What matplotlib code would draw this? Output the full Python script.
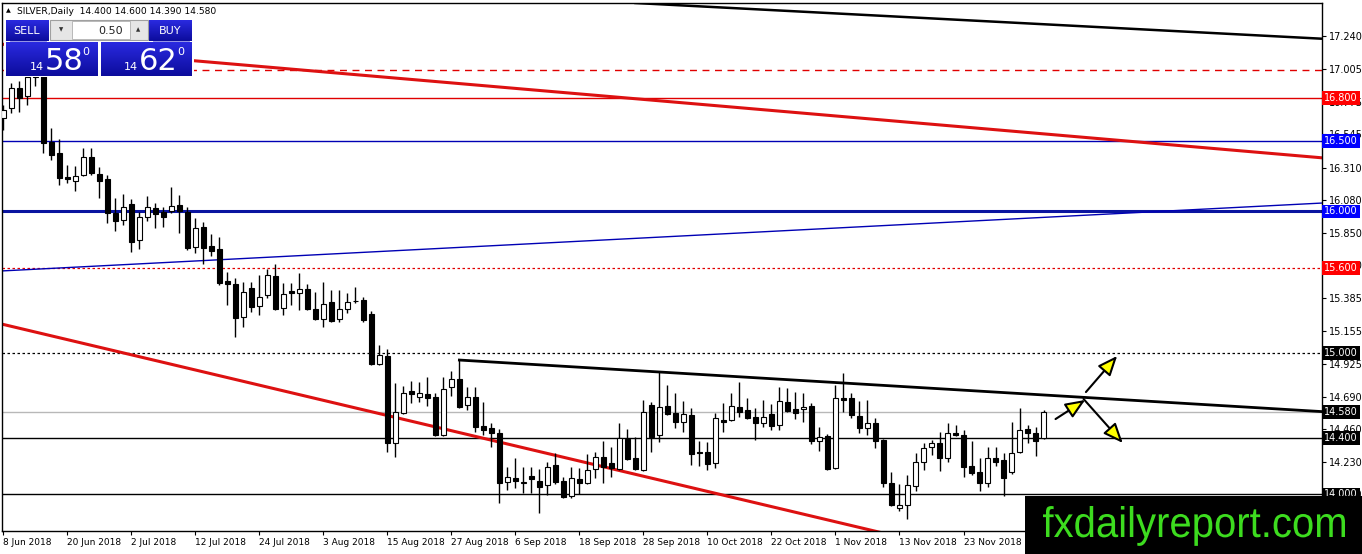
import numpy as np
import matplotlib
matplotlib.use("Agg")
import matplotlib.pyplot as plt
import matplotlib.transforms as mtransforms
from matplotlib.colors import LinearSegmentedColormap
from matplotlib.patches import Rectangle, PathPatch
from matplotlib.textpath import TextPath
from matplotlib.font_manager import FontProperties

# SILVER daily candles, 8 Jun 2018 -> early Dec 2018
opens = [16.660, 16.731, 16.873, 16.816, 16.950, 17.140, 16.491, 16.413, 16.244, 16.215,
         16.258, 16.385, 16.265, 16.229, 15.989, 15.940, 16.053, 15.798, 15.961, 16.025,
         15.996, 16.003, 16.046, 15.996, 15.749, 15.890, 15.756, 15.735, 15.509, 15.487,
         15.254, 15.459, 15.332, 15.410, 15.544, 15.318, 15.438, 15.424, 15.452, 15.311,
         15.240, 15.360, 15.240, 15.311, 15.364, 15.374, 15.275, 14.922, 14.979, 14.364,
         14.576, 14.731, 14.689, 14.710, 14.689, 14.420, 14.759, 14.816, 14.632, 14.689,
         14.484, 14.470, 14.434, 14.088, 14.116, 14.081, 14.130, 14.095, 14.067, 14.208,
         14.095, 13.989, 14.109, 14.081, 14.180, 14.265, 14.222, 14.180, 14.392, 14.258,
         14.173, 14.632, 14.420, 14.625, 14.576, 14.512, 14.562, 14.300, 14.300, 14.222,
         14.526, 14.526, 14.618, 14.597, 14.548, 14.505, 14.569, 14.491, 14.653, 14.604,
         14.604, 14.625, 14.378, 14.413, 14.187, 14.682, 14.682, 14.555, 14.470, 14.505,
         14.385, 14.081, 13.904, 13.926, 14.060, 14.230, 14.335, 14.364, 14.258, 14.434,
         14.420, 14.201, 14.159, 14.081, 14.258, 14.244, 14.159, 14.300, 14.463, 14.434,
         14.400]
highs = [16.752, 16.908, 16.922, 17.020, 17.330, 17.180, 16.590, 16.512, 16.328, 16.321,
         16.449, 16.449, 16.314, 16.258, 16.095, 16.123, 16.088, 15.996, 16.109, 16.060,
         16.032, 16.173, 16.116, 16.032, 15.954, 15.926, 15.841, 15.820, 15.572, 15.530,
         15.502, 15.502, 15.551, 15.593, 15.629, 15.494, 15.494, 15.565, 15.487, 15.431,
         15.502, 15.445, 15.445, 15.424, 15.466, 15.395, 15.297, 15.056, 15.028, 14.788,
         14.767, 14.802, 14.795, 14.830, 14.717, 14.830, 14.872, 14.950, 14.759, 14.759,
         14.653, 14.505, 14.463, 14.194, 14.258, 14.194, 14.194, 14.180, 14.230, 14.293,
         14.123, 14.194, 14.187, 14.286, 14.300, 14.378, 14.335, 14.505, 14.463, 14.406,
         14.668, 14.653, 14.865, 14.774, 14.717, 14.661, 14.611, 14.378, 14.371, 14.576,
         14.646, 14.717, 14.795, 14.682, 14.611, 14.668, 14.639, 14.759, 14.752, 14.724,
         14.717, 14.646, 14.477, 14.427, 14.774, 14.858, 14.717, 14.661, 14.668, 14.540,
         14.392, 14.159, 14.074, 14.138, 14.293, 14.364, 14.385, 14.441, 14.505, 14.491,
         14.455, 14.378, 14.258, 14.335, 14.335, 14.293, 14.512, 14.611, 14.491, 14.477,
         14.600]
lows = [16.576, 16.696, 16.703, 16.752, 16.887, 16.413, 16.364, 16.187, 16.201, 16.145,
        16.250, 16.258, 16.095, 15.918, 15.862, 15.904, 15.714, 15.735, 15.933, 15.883,
        15.890, 15.989, 15.848, 15.728, 15.707, 15.629, 15.685, 15.480, 15.339, 15.113,
        15.183, 15.290, 15.268, 15.388, 15.304, 15.268, 15.339, 15.304, 15.304, 15.233,
        15.183, 15.219, 15.219, 15.282, 15.353, 15.219, 14.915, 14.915, 14.300, 14.265,
        14.569, 14.646, 14.653, 14.625, 14.413, 14.413, 14.696, 14.611, 14.597, 14.441,
        14.420, 14.335, 13.940, 14.032, 14.046, 14.011, 14.011, 13.869, 13.996, 14.074,
        13.975, 13.975, 14.004, 14.074, 14.116, 14.081, 14.123, 14.173, 14.244, 14.173,
        14.166, 14.300, 14.371, 14.562, 14.470, 14.441, 14.208, 14.201, 14.173, 14.187,
        14.441, 14.519, 14.548, 14.533, 14.385, 14.477, 14.456, 14.456, 14.583, 14.533,
        14.512, 14.357, 14.307, 14.173, 14.180, 14.583, 14.540, 14.434, 14.420, 14.328,
        14.053, 13.918, 13.883, 13.827, 14.025, 14.173, 14.279, 14.166, 14.230, 14.413,
        14.123, 14.138, 14.025, 14.053, 14.201, 13.989, 14.145, 14.293, 14.364, 14.272,
        14.390]
closes = [16.717, 16.873, 16.802, 16.950, 17.140, 16.484, 16.399, 16.236, 16.226, 16.251,
          16.385, 16.272, 16.215, 15.989, 15.933, 16.032, 15.784, 15.961, 16.032, 15.982,
          15.961, 16.039, 16.003, 15.742, 15.883, 15.742, 15.721, 15.494, 15.487, 15.247,
          15.431, 15.325, 15.396, 15.551, 15.311, 15.417, 15.424, 15.452, 15.311, 15.240,
          15.346, 15.226, 15.311, 15.360, 15.367, 15.233, 14.922, 14.985, 14.364, 14.583,
          14.717, 14.710, 14.717, 14.682, 14.420, 14.745, 14.816, 14.618, 14.689, 14.477,
          14.456, 14.434, 14.081, 14.123, 14.095, 14.088, 14.106, 14.053, 14.194, 14.088,
          13.982, 14.116, 14.081, 14.173, 14.265, 14.194, 14.187, 14.399, 14.251, 14.180,
          14.583, 14.406, 14.618, 14.569, 14.512, 14.569, 14.286, 14.290, 14.215, 14.540,
          14.512, 14.625, 14.583, 14.540, 14.505, 14.548, 14.484, 14.661, 14.590, 14.576,
          14.618, 14.378, 14.406, 14.180, 14.682, 14.668, 14.562, 14.470, 14.505, 14.378,
          14.081, 13.926, 13.926, 14.067, 14.230, 14.328, 14.364, 14.258, 14.434, 14.420,
          14.194, 14.152, 14.081, 14.258, 14.230, 14.116, 14.293, 14.455, 14.434, 14.378,
          14.580]

date_labels = ["8 Jun 2018", "20 Jun 2018", "2 Jul 2018", "12 Jul 2018", "24 Jul 2018",
               "3 Aug 2018", "15 Aug 2018", "27 Aug 2018", "6 Sep 2018", "18 Sep 2018",
               "28 Sep 2018", "10 Oct 2018", "22 Oct 2018", "1 Nov 2018", "13 Nov 2018",
               "23 Nov 2018"]
price_ticks = [17.240, 17.005, 16.775, 16.545, 16.310, 16.080, 15.850, 15.620, 15.385,
               15.155, 14.925, 14.690, 14.460, 14.230, 14.000]

# horizontal levels and their right-axis tags
level_prices = [17.0, 16.8, 16.5, 16.0, 15.6, 15.0, 14.58, 14.4, 14.0]
tag_prices = [16.8, 16.5, 16.0, 15.6, 15.0, 14.58, 14.4, 14.0]
tag_colors = ["#ff0000", "#0000ff", "#0000ff", "#ff0000", "black", "black", "black", "black"]

# trend lines: (bar index, price) pairs
trend_black_top = ([79, 165], [17.473, 17.22])
trend_red_upper = ([-0.4, 165], [17.183, 16.378])
trend_blue_rise = ([-0.4, 165], [15.579, 16.06])
trend_red_lower = ([-0.4, 112], [15.207, 13.70])
trend_black_down = ([57, 165], [14.950, 14.585])

# yellow arrows: (start, end) in (bar index, price)
arrows = [((131.5, 14.533), (135.2, 14.668)),
          ((135.3, 14.724), (139.2, 14.979)),
          ((135.0, 14.675), (139.9, 14.364))]

W, H = 1362, 554
fig = plt.figure(figsize=(W / 100, H / 100), dpi=100)
fig.patch.set_facecolor("white")
ax = fig.add_axes([2 / W, 23 / H, 1320 / W, 528 / H])

n = len(opens)
idx = np.arange(n)
o = np.array(opens)
c = np.array(closes)
hi = np.array(highs)
lo = np.array(lows)

ax.vlines(idx, lo, hi, color="black", lw=1, zorder=3)
body_bottom = np.minimum(o, c)
body_h = np.maximum(np.abs(c - o), 0.004)
face = ["white" if cl >= op else "black" for op, cl in zip(o, c)]
ax.bar(idx, body_h, bottom=body_bottom, width=0.62, color=face,
       edgecolor="black", linewidth=0.8, zorder=4)

# horizontal lines
hstyles = [dict(color="#e00000", lw=1, dashes=(5, 4)),
           dict(color="#e00000", lw=1),
           dict(color="#0000b4", lw=1),
           dict(color="#0a14a0", lw=2.2),
           dict(color="#e00000", lw=0.9, dashes=(2, 2)),
           dict(color="black", lw=0.9, dashes=(2, 2)),
           dict(color="#b8b8b8", lw=1),
           dict(color="black", lw=1),
           dict(color="black", lw=1)]
for p, st in zip(level_prices, hstyles):
    ax.axhline(p, zorder=2, **st)

ax.plot(*trend_black_top, color="black", lw=1.8, zorder=2)
ax.plot(*trend_red_upper, color="#dd1111", lw=2.2, zorder=2)
ax.plot(*trend_blue_rise, color="#0000b4", lw=1, zorder=2)
ax.plot(*trend_red_lower, color="#dd1111", lw=2.2, zorder=2)
ax.plot(*trend_black_down, color="black", lw=2, zorder=2)

for (x0, y0), (x1, y1) in arrows:
    ax.annotate("", xy=(x1, y1), xytext=(x0, y0),
                arrowprops=dict(arrowstyle="-|>,head_length=1.2,head_width=0.5",
                                fc="yellow", ec="black", lw=1.5, shrinkA=0, shrinkB=0),
                zorder=6)

ax.set_xlim(-0.16, 164.8)
ax.set_ylim(13.742, 17.473)
ax.yaxis.tick_right()
ax.set_yticks(price_ticks)
ax.set_yticklabels([f"{t:.3f}" for t in price_ticks])
ax.set_xticks(np.arange(len(date_labels)) * 8)
ax.set_xticklabels(date_labels, ha="left")
ax.tick_params(axis="y", direction="out", length=3, width=0.8, labelsize=7, pad=2)
ax.tick_params(axis="x", direction="out", length=3, width=0.8, labelsize=6.5, pad=2)
for s in ax.spines.values():
    s.set_linewidth(1)

trans = mtransforms.blended_transform_factory(ax.transAxes, ax.transData)
for p, col in zip(tag_prices, tag_colors):
    ax.text(1.0018, p, f"{p:.3f}", transform=trans, ha="left", va="center",
            fontsize=7, color="white", zorder=10, clip_on=False,
            bbox=dict(boxstyle="square,pad=0.2", fc=col, ec="none"))

# overlay in pixel coordinates: trade panel, header, logo
ov = fig.add_axes([0, 0, 1, 1], zorder=5)
ov.set_xlim(0, W)
ov.set_ylim(H, 0)
ov.axis("off")
ov.patch.set_alpha(0)

blue_grad = LinearSegmentedColormap.from_list("bg", ["#2a2ae0", "#0c0c9c"])
grad = np.linspace(0, 1, 50).reshape(-1, 1)


def gbox(x0, y0, x1, y1):
    ov.imshow(grad, cmap=blue_grad, extent=[x0, x1, y1, y0], aspect="auto",
              interpolation="bilinear", zorder=6)


ov.add_patch(Rectangle((4, 18), 190, 59, fc="white", ec="none", zorder=5))
gbox(6, 20, 49, 41)
gbox(6, 42, 98, 76)
gbox(149, 20, 192, 41)
gbox(101, 42, 192, 76)
ov.plot([10, 46], [40.5, 40.5], color="#8080e0", lw=0.6, zorder=7)
ov.plot([153, 189], [40.5, 40.5], color="#8080e0", lw=0.6, zorder=7)

ov.add_patch(Rectangle((50, 20), 98, 20, fc="#e6e6e6", ec="#a0a0a0", lw=0.8, zorder=6))
ov.add_patch(Rectangle((72, 21), 58, 18, fc="white", ec="#b0b0b0", lw=0.6, zorder=7))
ov.text(61, 30, "▼", fontsize=4, ha="center", va="center", color="#333333", zorder=8)
ov.text(138, 30, "▲", fontsize=4, ha="center", va="center", color="#333333", zorder=8)
ov.text(123, 30.5, "0.50", fontsize=8, ha="right", va="center", color="#222222", zorder=8)

ov.text(27, 30.5, "SELL", fontsize=8, ha="center", va="center", color="white", zorder=8)
ov.text(170, 30.5, "BUY", fontsize=8, ha="center", va="center", color="white", zorder=8)
ov.text(37, 70, "14", fontsize=8, ha="center", va="baseline", color="white", zorder=8)
ov.text(64, 70, "58", fontsize=22, ha="center", va="baseline", color="white", zorder=8)
ov.text(86, 55, "0", fontsize=8, ha="center", va="baseline", color="white", zorder=8)
ov.text(131, 70, "14", fontsize=8, ha="center", va="baseline", color="white", zorder=8)
ov.text(158, 70, "62", fontsize=22, ha="center", va="baseline", color="white", zorder=8)
ov.text(181, 55, "0", fontsize=8, ha="center", va="baseline", color="white", zorder=8)

ov.text(6, 11, "▲", fontsize=4.5, ha="left", va="center", color="black", zorder=8)
ov.text(17, 11, "SILVER,Daily  14.400 14.600 14.390 14.580", fontsize=6.6,
        ha="left", va="center", color="black", zorder=8)

# logo box with a horizontally squeezed text
ov.add_patch(Rectangle((1025, 496), W - 1025, H - 496, fc="black", ec="none", zorder=9))
tp = TextPath((0, 0), "fxdailyreport.com", size=40, prop=FontProperties(family="Liberation Sans"))
bb = tp.get_extents()
sx = 302 / bb.width
sy = 31 / bb.y1
logo_tf = mtransforms.Affine2D().translate(-bb.x0, 0).scale(sx, -sy).translate(1043, 537)
ov.add_patch(PathPatch(logo_tf.transform_path(tp), fc="#3ddc1f", ec="none", zorder=10))

fig.savefig("out.png", dpi=100)
